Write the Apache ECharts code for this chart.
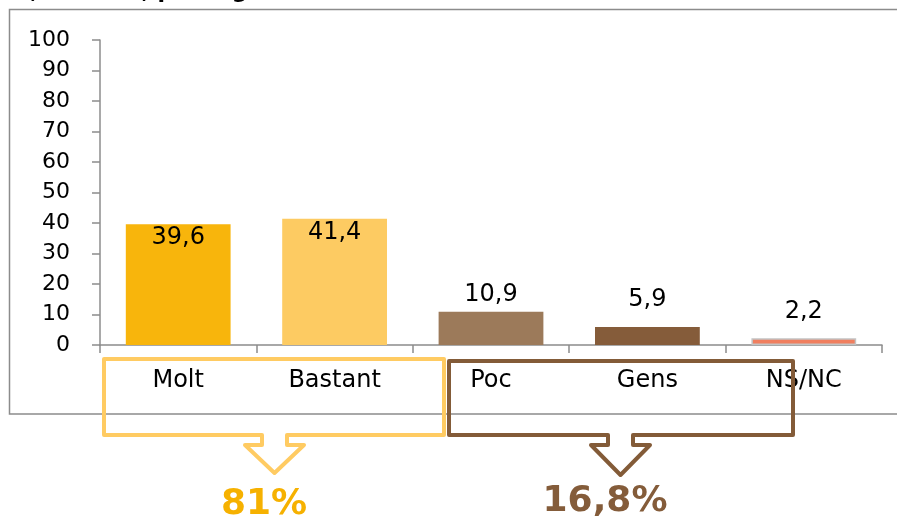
<!DOCTYPE html>
<html>
<head>
<meta charset="utf-8">
<script src="https://cdn.jsdelivr.net/npm/echarts@6/dist/echarts.min.js"></script>
<style>
  html, body { margin: 0; padding: 0; background: #fff; }
  #main { width: 897px; height: 519px; }
</style>
</head>
<body>
<div id="main"></div>
<script>
// dades
var categories = ['Molt', 'Bastant', 'Poc', 'Gens', 'NS/NC'];
var values = [39.6, 41.4, 10.9, 5.9, 2.2];
var barColors = ['#F8B50C', '#FDCB62', '#9C7A5A', '#855C3A', '#F07F5F'];
var yTicks = { min: 0, max: 100, interval: 10 };
var groupTotals = ['81%', '16,8%'];
var titleText = 'molt, bastant, poc o gens:';

var FONT = 'DejaVu Sans';

function fmt(v) {
  return String(v).replace('.', ',');
}

var dom = document.getElementById('main');
var myChart = echarts.init(dom);

var seriesData = values.map(function (v, i) {
  var item = { value: v, itemStyle: { color: barColors[i] } };
  if (i < 2) {
    item.label = { position: 'insideTop', distance: 2 };
  } else if (i == 2) {
    item.label = { position: 'top', distance: 5 };
  } else {
    item.label = { position: 'top', distance: 15 };
  }
  if (i == 4) {
    item.itemStyle.borderColor = '#c4c4c4';
    item.itemStyle.borderWidth = 1.5;
  }
  return item;
});

var yellowBracket = [[287,435],[444,435],[444,359],[104,359],[104,435],[262,435],[262,445],[245,445],[274.5,473],[304,445],[287,445]];
var brownBracket = [[633,435],[793,435],[793,361],[449,361],[449,435],[608,435],[608,445],[591,445],[620.5,475],[650,445],[633,445]];

var option = {
  animation: false,
  grid: { left: 100, right: 15, top: 40, bottom: 174, containLabel: false },
  xAxis: {
    type: 'category',
    data: categories,
    axisLine: { lineStyle: { color: '#8c8c8c', width: 1.5 } },
    axisTick: { show: true, length: 8, lineStyle: { color: '#8c8c8c', width: 1.5 } },
    axisLabel: { margin: 24, color: '#000', fontFamily: FONT, fontSize: 24 }
  },
  yAxis: {
    type: 'value',
    min: yTicks.min,
    max: yTicks.max,
    interval: yTicks.interval,
    axisLine: { show: true, lineStyle: { color: '#8c8c8c', width: 1.5 } },
    axisTick: { show: true, length: 8, lineStyle: { color: '#8c8c8c', width: 1.5 } },
    splitLine: { show: false },
    axisLabel: { margin: 30, color: '#000', fontFamily: FONT, fontSize: 22 }
  },
  series: [{
    type: 'bar',
    barWidth: '67%',
    data: seriesData,
    label: {
      show: true,
      color: '#000',
      fontFamily: FONT,
      fontSize: 24,
      formatter: function (p) { return fmt(p.value); }
    }
  }],
  graphic: [
    {
      type: 'rect', z: -10, silent: true,
      shape: { x: 9.5, y: 9.5, width: 900, height: 404.5 },
      style: { fill: null, stroke: '#8c8c8c', lineWidth: 1.5 }
    },
    {
      type: 'text', silent: true, x: 300, y: -8,
      style: { text: titleText, align: 'right', verticalAlign: 'middle', fontFamily: FONT, fontSize: 22, fontWeight: 'bold', fill: '#000' }
    },
    {
      type: 'polygon', z: 100, silent: true,
      shape: { points: yellowBracket },
      style: { fill: null, stroke: '#FFCB62', lineWidth: 4, lineJoin: 'round' }
    },
    {
      type: 'polygon', z: 100, silent: true,
      shape: { points: brownBracket },
      style: { fill: null, stroke: '#835B38', lineWidth: 4, lineJoin: 'round' }
    },
    {
      type: 'text', z: 100, silent: true, x: 264, y: 505,
      style: { text: groupTotals[0], align: 'center', verticalAlign: 'middle', fontFamily: FONT, fontSize: 36, fontWeight: 'bold', fill: '#F6B100' }
    },
    {
      type: 'text', z: 100, silent: true, x: 605, y: 502,
      style: { text: groupTotals[1], align: 'center', verticalAlign: 'middle', fontFamily: FONT, fontSize: 36, fontWeight: 'bold', fill: '#845C3A' }
    }
  ]
};

myChart.setOption(option);
</script>
</body>
</html>
